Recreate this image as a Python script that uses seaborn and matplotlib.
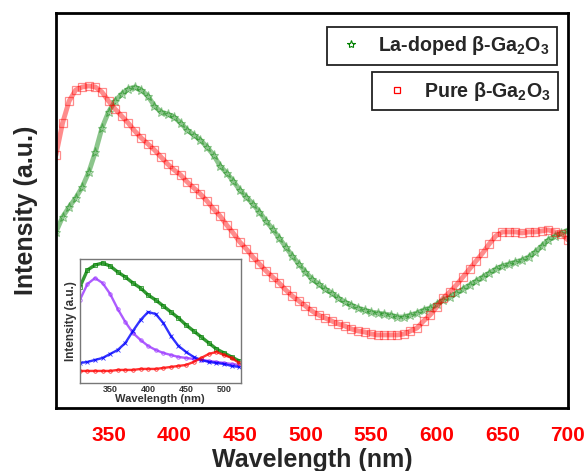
import numpy as np
import pandas as pd
import matplotlib
matplotlib.use('Agg')
import matplotlib.pyplot as plt
import seaborn as sns
from matplotlib.lines import Line2D

# main spectra (a.u.), 5 nm step
wl = list(range(310, 705, 5))
pure = [253, 285, 307, 318, 321, 322, 321, 316, 307, 299, 292, 285, 277, 270, 264, 258,
        251, 244, 238, 233, 226, 220, 214, 207, 199, 192, 183, 175, 166, 159, 151, 144,
        137, 131, 125, 118, 112, 107, 102, 97, 93, 90, 87, 84, 82, 79, 77, 76, 74, 73,
        73, 73, 73, 74, 77, 80, 87, 93, 101, 110, 116, 123, 131, 139, 147, 155, 164, 172,
        176, 176, 176, 175, 176, 176, 177, 178, 176, 174, 168]
la_doped = [176, 191, 201, 210, 221, 236, 256, 280, 296, 307, 314, 319, 321, 318, 312, 302,
            296, 294, 291, 285, 278, 273, 268, 261, 253, 242, 235, 227, 218, 211, 204, 196,
            187, 179, 170, 161, 152, 144, 136, 129, 124, 119, 115, 110, 106, 103, 100, 98,
            96, 95, 94, 93, 91, 91, 93, 95, 98, 100, 104, 108, 111, 115, 119, 123, 127, 131,
            135, 139, 142, 144, 146, 148, 151, 156, 162, 168, 172, 175, 178]

# inset: La-doped spectrum and fitted components, 10 nm step
wl_in = list(range(310, 530, 10))
in_total = [96, 113, 118, 120, 117, 111, 106, 100, 95, 88, 83, 77, 71, 65, 58, 52, 46, 40,
            34, 30, 26, 22]
in_peak1 = [83, 99, 105, 100, 89, 74, 61, 50, 43, 37, 33, 30, 28, 26, 25, 24, 23, 22, 21,
            20, 19, 18]
in_peak2 = [20, 21, 23, 25, 29, 33, 40, 52, 63, 71, 69, 60, 47, 37, 31, 26, 23, 21, 20, 19,
            17, 16]
in_peak3 = [12, 12, 12, 12, 12, 13, 13, 13, 14, 14, 14, 15, 16, 17, 18, 21, 25, 29, 31, 28,
            25, 20]

sns.set_style('white')
plt.rcParams['font.family'] = ['Liberation Sans', 'DejaVu Sans']
plt.rcParams['font.weight'] = 'bold'
plt.rcParams['mathtext.fontset'] = 'custom'
plt.rcParams['mathtext.rm'] = 'Liberation Sans:bold'
plt.rcParams['mathtext.it'] = 'Liberation Sans:bold'
plt.rcParams['mathtext.bf'] = 'Liberation Sans:bold'

GREEN = '#008000'
RED = '#ff0000'

fig = plt.figure(figsize=(5.87, 4.71), dpi=100)
ax = fig.add_axes([0.0954, 0.1338, 0.8722, 0.8386])

df = pd.DataFrame({'wl': wl, 'pure': pure, 'la': la_doped})
sns.lineplot(data=df, x='wl', y='la', ax=ax, color=GREEN, lw=3.5, alpha=0.45,
             marker='*', markersize=6.5, markerfacecolor='none', markeredgecolor=GREEN,
             markeredgewidth=0.8)
sns.lineplot(data=df, x='wl', y='pure', ax=ax, color=RED, lw=3.5, alpha=0.45,
             marker='s', markersize=5.5, markerfacecolor='none', markeredgecolor=RED,
             markeredgewidth=0.9)

ax.set_xlim(310, 700)
ax.set_ylim(0, 395)
ax.set_xticks(range(350, 701, 50))
ax.set_yticks([])
ax.tick_params(axis='x', direction='out', length=8, width=1.5, colors='black',
               labelcolor=RED, labelsize=15, pad=5)
for lab in ax.get_xticklabels():
    lab.set_fontweight('bold')
for s in ax.spines.values():
    s.set_linewidth(2)
    s.set_color('black')
ax.set_xlabel('Wavelength (nm)', fontsize=18, fontweight='bold', labelpad=2)
ax.set_ylabel('Intensity (a.u.)', fontsize=18, fontweight='bold', labelpad=13)

# two separate framed legends
h_la = Line2D([], [], ls='none', marker='*', markersize=6, markerfacecolor='none',
              markeredgecolor=GREEN, markeredgewidth=0.8)
h_pure = Line2D([], [], ls='none', marker='s', markersize=5, markerfacecolor='none',
                markeredgecolor=RED, markeredgewidth=0.9)
leg_kw = dict(fancybox=False, framealpha=1, edgecolor='#222222', handlelength=1.7,
              handletextpad=0.55, borderpad=0.38, borderaxespad=0,
              prop={'weight': 'bold', 'size': 14.1}, bbox_transform=fig.transFigure)
leg1 = ax.legend([h_la], [r'La-doped β-Ga$_2$O$_3$'], loc='upper right',
                 bbox_to_anchor=(0.949, 0.943), **leg_kw)
leg1.get_frame().set_linewidth(1.3)
ax.add_artist(leg1)
leg2 = ax.legend([h_pure], [r'Pure β-Ga$_2$O$_3$'], loc='upper right',
                 bbox_to_anchor=(0.951, 0.847), **leg_kw)
leg2.get_frame().set_linewidth(1.3)

# inset
axi = fig.add_axes([0.136, 0.187, 0.274, 0.263])
dfi = pd.DataFrame({'wl': wl_in, 't': in_total, 'p1': in_peak1, 'p2': in_peak2,
                    'p3': in_peak3})
inset_series = [('t', GREEN, 's'), ('p1', '#9933ff', 'o'), ('p2', '#0000ff', 'x'),
                ('p3', RED, 'o')]
for col, c, m in inset_series:
    sns.lineplot(data=dfi, x='wl', y=col, ax=axi, color=c, lw=2.4 if col == 't' else 1.7,
                 alpha=0.8, marker=m, markersize=2.5, markerfacecolor='none',
                 markeredgecolor=c, markeredgewidth=0.6)
axi.set_xlim(310, 522)
axi.set_ylim(0, 124)
axi.set_xticks([350, 400, 450, 500])
axi.set_xticks([325, 375, 425, 475], minor=True)
axi.set_yticks([])
axi.tick_params(axis='x', which='both', direction='in', length=3, width=0.8,
                labelsize=6.5, colors='#333333', pad=1.5)
axi.tick_params(axis='x', which='minor', length=2)
for s in axi.spines.values():
    s.set_linewidth(1)
    s.set_color('#777777')
axi.set_xlabel('Wavelength (nm)', fontsize=8, fontweight='bold', color='#333333',
               labelpad=0)
axi.set_ylabel('Intensity (a.u.)', fontsize=8.5, fontweight='bold', color='#333333',
               labelpad=2)
axi.patch.set_alpha(0)

fig.savefig('out.png', dpi=100)
